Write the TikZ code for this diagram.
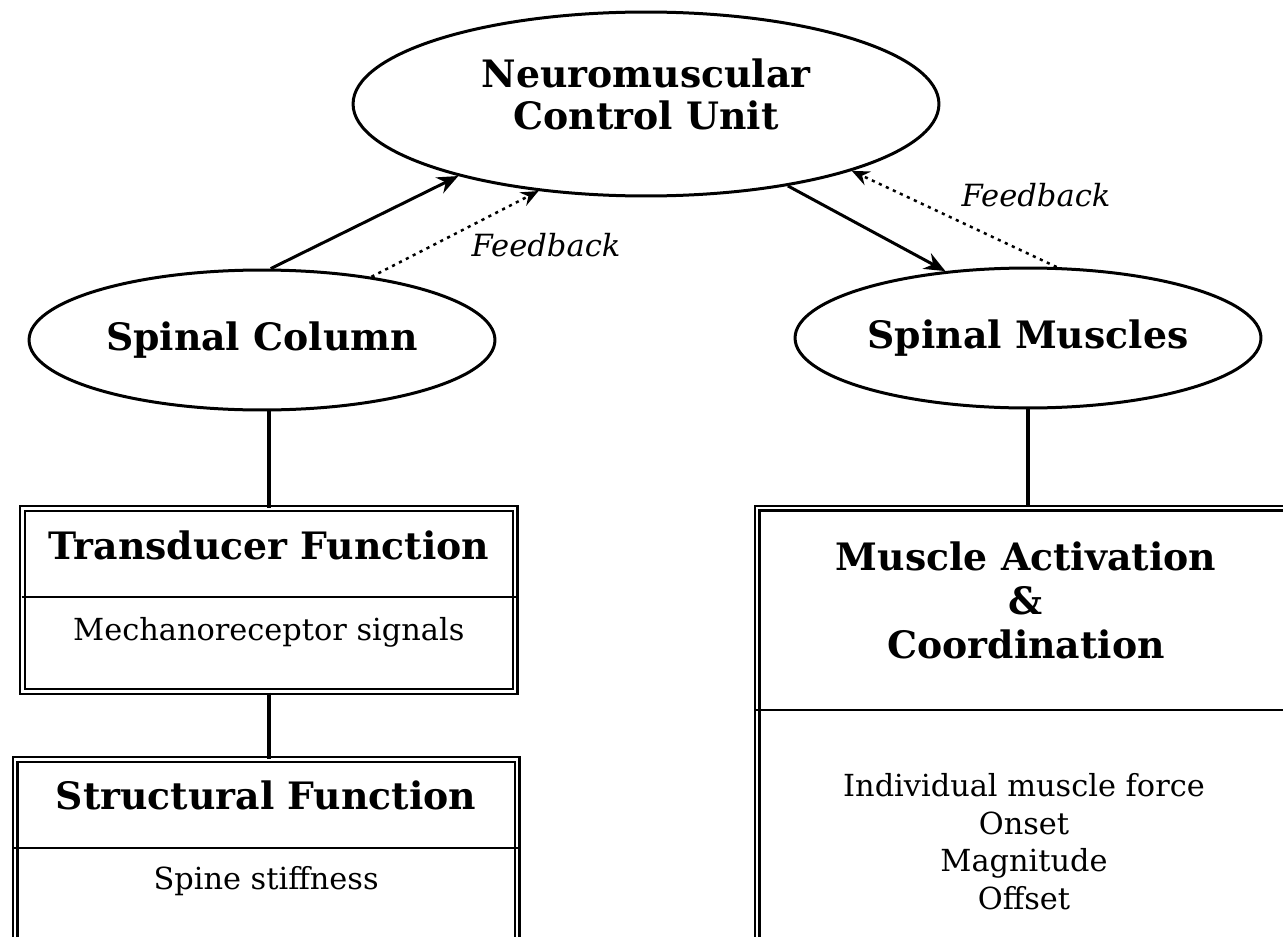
\documentclass[tikz,border=0pt]{standalone}
\usepackage{fontspec}
\setmainfont{DejaVu Serif}
\usepackage{tikz}
\usetikzlibrary{calc,arrows.meta,positioning,shapes.geometric}

\begin{document}
\begin{tikzpicture}[x=0.02cm,y=-0.02cm]

\tikzset{ovalnode/.style={shape=ellipse,draw,line width=0.06cm,inner sep=0pt,font=\bfseries\fontsize{21.5}{24}\selectfont,align=center},
funcbox/.style={shape=rectangle,draw,line width=0.045cm,double,double distance=0.05cm,inner sep=0pt,anchor=north west},
titletext/.style={font=\bfseries\fontsize{21.5}{25}\selectfont,align=center,inner sep=0pt},
bodytext/.style={font=\fontsize{17.3}{21.4}\selectfont,align=center,inner sep=0pt},
fbtext/.style={font=\itshape\fontsize{17.4}{19}\selectfont,inner sep=0pt},
mainarrow/.style={line width=0.06cm,-{Stealth[length=12pt,width=10pt,inset=4pt]}},
feedarrow/.style={line width=0.05cm,dash pattern=on 1.8pt off 2.6pt,-{Stealth[length=10pt,width=8.5pt,inset=3.5pt]}},
link/.style={line width=0.09cm}}

\path[use as bounding box,clip] (0,0) rectangle (1283,936);

% Ellipses
\node[ovalnode,minimum width=11.72cm,minimum height=3.68cm,text depth=11pt] (ctrlUnit) at (646,104) {Neuromuscular\\Control Unit};
\node[ovalnode,minimum width=9.32cm,minimum height=2.8cm] (spineCol) at (262,340) {Spinal Column};
\node[ovalnode,minimum width=9.32cm,minimum height=2.8cm] (spineMus) at (1028,338) {Spinal Muscles};

% Function boxes
\node[funcbox,minimum width=9.85cm,minimum height=3.66cm] (transBox) at (21.5,507.5) {};
\node[funcbox,minimum width=10.04cm,minimum height=6cm] (structBox) at (14,758.5) {};
\node[funcbox,minimum width=13cm,minimum height=9cm] (muscBox) at (756,507) {};

\draw[line width=0.03cm] ($(transBox.north west)+(0,89.5)$) -- ($(transBox.north east)+(0,89.5)$);
\draw[line width=0.03cm] ($(structBox.north west)+(0,89.5)$) -- ($(structBox.north east)+(0,89.5)$);
\draw[line width=0.03cm] ($(muscBox.north west)+(0,203)$) -- ($(muscBox.north east)+(0,203)$);

% Box texts
\node[titletext] (transTitle) at ($(transBox.north)+(0,37.5)$) {Transducer Function};
\node[bodytext] (transBody) at ($(transBox.north)+(0,124.5)$) {Mechanoreceptor signals};
\node[titletext] (structTitle) at ($(structBox.north)+(0,36.5)$) {Structural Function};
\node[bodytext] (structBody) at ($(structBox.north)+(0,122.5)$) {Spine stiffness};
\node[titletext] (muscTitle) at ($(muscBox.north west)+(270,93)$) {Muscle Activation\\\&\\Coordination};
\node[bodytext] (muscBody) at ($(muscBox.north west)+(268,334.5)$) {Individual muscle force\\Onset\\Magnitude\\Offset};

% Feedback labels
\node[fbtext] (fbLeft) at (546,245) {Feedback};
\node[fbtext] (fbRight) at (1036,195) {Feedback};

% Arrows
\draw[mainarrow] (spineCol.83) -- (ctrlUnit.201);
\draw[feedarrow] (spineCol.30) -- (ctrlUnit.219);
\draw[mainarrow] (ctrlUnit.330) -- (spineMus.141);
\draw[feedarrow] (spineMus.68) -- (ctrlUnit.342);

% Links
\draw[link] (transBox.north) -- (transBox.north |- spineCol.south);
\draw[link] (transBox.south) -- (transBox.south |- structBox.north);
\draw[link] (spineMus.south) -- (spineMus.south |- muscBox.north);

\end{tikzpicture}
\end{document}
